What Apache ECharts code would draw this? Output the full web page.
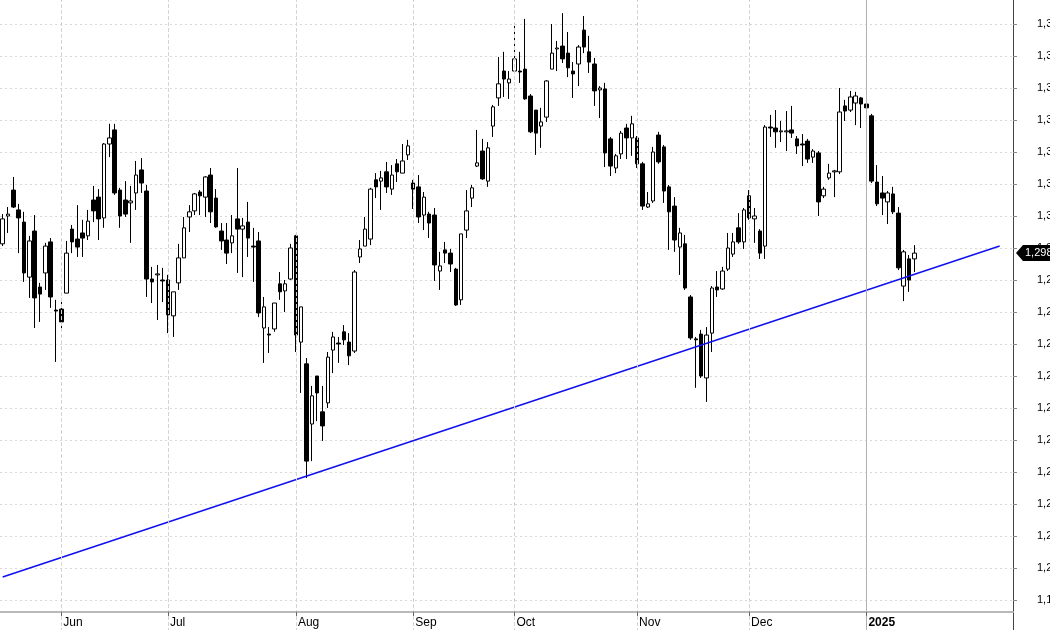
<!DOCTYPE html>
<html><head><meta charset="utf-8">
<script src="https://cdn.jsdelivr.net/npm/echarts@6/dist/echarts.min.js"></script>
<style>html,body{margin:0;padding:0;background:#fff}#c{width:1050px;height:630px}</style>
</head><body><div id="c"></div>
<script>
// OHLC per daily bar (open, high, low, close)
const opens=[1.3013,1.3100,1.3181,1.3119,1.3081,1.2909,1.3053,1.2878,1.2922,1.3019,1.2806,1.2809,1.2859,1.3059,1.3028,1.3047,1.3038,1.3150,1.3159,1.3094,1.3325,1.3369,1.3181,1.3150,1.3141,1.3172,1.3244,1.3178,1.2903,1.2916,1.2900,1.2900,1.2788,1.2891,1.2969,1.3097,1.3116,1.3175,1.3159,1.3228,1.3156,1.3053,1.3025,1.3016,1.3091,1.3059,1.3081,1.3006,1.3022,1.2750,1.2731,1.2747,1.2888,1.2866,1.2903,1.3038,1.2706,1.2638,1.2450,1.2600,1.2488,1.2516,1.2681,1.2703,1.2738,1.2706,1.2678,1.2972,1.3006,1.3028,1.3213,1.3209,1.3238,1.3184,1.3263,1.3234,1.3291,1.3203,1.3191,1.3103,1.3106,1.3103,1.2928,1.2994,1.2984,1.2934,1.2838,1.3056,1.3156,1.3256,1.3303,1.3209,1.3381,1.3469,1.3553,1.3516,1.3553,1.3553,1.3559,1.3475,1.3431,1.3381,1.3409,1.3559,1.3622,1.3631,1.3609,1.3553,1.3575,1.3681,1.3613,1.3575,1.3494,1.3497,1.3341,1.3250,1.3294,1.3375,1.3344,1.3344,1.3263,1.3128,1.3147,1.3353,1.3316,1.3191,1.3131,1.3003,1.3013,1.2847,1.2716,1.2731,1.2594,1.2734,1.2878,1.2872,1.2934,1.2981,1.3063,1.3019,1.3163,1.3091,1.3053,1.3006,1.3378,1.3375,1.3363,1.3363,1.3369,1.3341,1.3325,1.3334,1.3284,1.3297,1.3163,1.3219,1.3238,1.3238,1.3444,1.3431,1.3453,1.3469,1.3450,1.3413,1.3206,1.3172,1.3144,1.3169,1.3109,1.2881,1.2966,1.2966];
const highs=[1.3106,1.3128,1.3222,1.3138,1.3113,1.3038,1.3103,1.2891,1.3016,1.3031,1.2838,1.2841,1.3022,1.3072,1.3134,1.3088,1.3119,1.3194,1.3184,1.3328,1.3388,1.3388,1.3188,1.3209,1.3194,1.3272,1.3281,1.3197,1.2941,1.2947,1.2938,1.2916,1.2863,1.3013,1.3097,1.3134,1.3172,1.3181,1.3225,1.3250,1.3184,1.3078,1.3078,1.3103,1.3250,1.3094,1.3144,1.3063,1.3050,1.2847,1.2753,1.2828,1.2925,1.2900,1.3013,1.3041,1.2816,1.2656,1.2569,1.2600,1.2569,1.2675,1.2738,1.2722,1.2759,1.2734,1.2931,1.3025,1.3097,1.3188,1.3234,1.3241,1.3269,1.3259,1.3278,1.3325,1.3338,1.3213,1.3228,1.3175,1.3113,1.3125,1.2988,1.3019,1.2997,1.2938,1.3044,1.3181,1.3197,1.3369,1.3341,1.3331,1.3447,1.3597,1.3613,1.3553,1.3700,1.3613,1.3716,1.3481,1.3431,1.3438,1.3525,1.3700,1.3647,1.3734,1.3675,1.3581,1.3634,1.3725,1.3663,1.3594,1.3506,1.3516,1.3347,1.3294,1.3366,1.3388,1.3413,1.3350,1.3269,1.3175,1.3316,1.3363,1.3322,1.3197,1.3159,1.3063,1.3041,1.2853,1.2722,1.2744,1.2753,1.2881,1.2928,1.2941,1.3047,1.3047,1.3109,1.3125,1.3181,1.3125,1.3059,1.3384,1.3416,1.3431,1.3397,1.3428,1.3444,1.3350,1.3356,1.3341,1.3309,1.3303,1.3191,1.3263,1.3244,1.3500,1.3463,1.3491,1.3488,1.3472,1.3472,1.3419,1.3259,1.3225,1.3178,1.3191,1.3128,1.2994,1.2978,1.3009];
const lows=[1.3006,1.3047,1.3125,1.2984,1.2894,1.2844,1.2750,1.2769,1.2869,1.2813,1.2644,1.2750,1.2859,1.2984,1.2972,1.2972,1.3025,1.3081,1.3025,1.3063,1.3284,1.3166,1.3063,1.3097,1.3016,1.3119,1.3172,1.2847,1.2828,1.2775,1.2831,1.2734,1.2722,1.2869,1.2969,1.3050,1.3103,1.3103,1.3097,1.3078,1.3063,1.2994,1.2950,1.2984,1.2922,1.2909,1.2972,1.2894,1.2784,1.2641,1.2672,1.2738,1.2838,1.2800,1.2900,1.2675,1.2547,1.2281,1.2334,1.2459,1.2397,1.2500,1.2609,1.2641,1.2697,1.2634,1.2672,1.2953,1.3006,1.3009,1.3156,1.3119,1.3172,1.3166,1.3206,1.3234,1.3275,1.3122,1.3078,1.3056,1.3031,1.2897,1.2869,1.2953,1.2925,1.2819,1.2822,1.3031,1.3128,1.3253,1.3213,1.3191,1.3347,1.3444,1.3472,1.3466,1.3550,1.3516,1.3463,1.3359,1.3291,1.3313,1.3394,1.3559,1.3553,1.3578,1.3534,1.3469,1.3506,1.3609,1.3547,1.3444,1.3406,1.3253,1.3225,1.3234,1.3278,1.3278,1.3288,1.3250,1.3119,1.3125,1.3141,1.3263,1.3141,1.2994,1.2988,1.2916,1.2869,1.2713,1.2563,1.2594,1.2519,1.2675,1.2847,1.2869,1.2928,1.2972,1.3013,1.2997,1.3088,1.3016,1.2966,1.2966,1.3347,1.3313,1.3331,1.3303,1.3344,1.3294,1.3256,1.3266,1.3266,1.3100,1.3156,1.3213,1.3159,1.3231,1.3397,1.3425,1.3384,1.3375,1.3350,1.3203,1.3131,1.3103,1.3075,1.3106,1.2931,1.2834,1.2863,1.2925];
const closes=[1.3091,1.3106,1.3128,1.3094,1.2922,1.3022,1.2844,1.2856,1.3006,1.2847,1.2803,1.2769,1.2984,1.3019,1.3003,1.3031,1.3084,1.3116,1.3091,1.3325,1.3344,1.3172,1.3100,1.3106,1.3147,1.3228,1.3203,1.2903,1.2894,1.2919,1.2897,1.2791,1.2863,1.2969,1.3063,1.3113,1.3169,1.3163,1.3222,1.3113,1.3066,1.3022,1.2984,1.3038,1.3059,1.3069,1.3031,1.3003,1.2797,1.2816,1.2728,1.2828,1.2863,1.2888,1.3000,1.2728,1.2816,1.2334,1.2538,1.2547,1.2444,1.2659,1.2722,1.2700,1.2713,1.2663,1.2925,1.2997,1.3059,1.3184,1.3191,1.3219,1.3191,1.3228,1.3238,1.3272,1.3319,1.3184,1.3097,1.3159,1.3078,1.2947,1.2944,1.2984,1.2950,1.2822,1.3044,1.3116,1.3188,1.3266,1.3216,1.3313,1.3441,1.3513,1.3528,1.3528,1.3591,1.3550,1.3466,1.3363,1.3359,1.3394,1.3522,1.3609,1.3625,1.3591,1.3563,1.3544,1.3628,1.3628,1.3581,1.3491,1.3500,1.3297,1.3256,1.3288,1.3359,1.3344,1.3388,1.3263,1.3131,1.3138,1.3300,1.3269,1.3178,1.3113,1.3025,1.3047,1.2875,1.2719,1.2713,1.2600,1.2728,1.2875,1.2869,1.2928,1.3000,1.3019,1.3019,1.3119,1.3094,1.3100,1.2984,1.3378,1.3375,1.3363,1.3366,1.3366,1.3359,1.3319,1.3322,1.3278,1.3303,1.3144,1.3184,1.3234,1.3241,1.3425,1.3428,1.3472,1.3475,1.3450,1.3438,1.3209,1.3138,1.3156,1.3172,1.3113,1.2938,1.2988,1.2900,1.2984];
const totalSlots=190;
const monthLabels=[[11,'Jun'],[31,'Jul'],[55,'Aug'],[77,'Sep'],[96,'Oct'],[119,'Nov'],[140,'Dec'],[162,'2025']];
const trendStart=[0,1.1972], trendEnd=[187,1.3006];
const yMin=1.18,yMax=1.38,yStep=0.01;
const FONT='Liberation Sans';

const cats=[];for(let i=0;i<totalSlots;i++)cats.push('bar'+(i+1));
const ohlc=opens.map((o,i)=>[o,closes[i],lows[i],highs[i]]);
const trend=new Array(totalSlots).fill(null);trend[trendStart[0]]=trendStart[1];trend[trendEnd[0]]=trendEnd[1];
const monthIdx=monthLabels.map(m=>m[0]);
const ml=monthLabels.map(m=>({xAxis:m[0],lineStyle:m[1]==='2025'?{type:'solid',color:'#b0b0b0',width:1}:{type:'dashed',color:'#d4d4d4',width:1}}));

const chart=echarts.init(document.getElementById('c'),null,{renderer:'canvas'});
chart.setOption({
  animation:false,backgroundColor:'#fff',
  grid:{left:0,right:37,top:-8,height:640,containLabel:false,outerBoundsMode:'none'},
  xAxis:{type:'category',data:cats,boundaryGap:true,offset:-20,z:5,
    axisLine:{show:true,lineStyle:{color:'#b8b8b8',width:2}},
    axisTick:{show:true,alignWithLabel:true,interval:(i)=>monthIdx.includes(i),length:4,lineStyle:{color:'#666'}},
    axisLabel:{interval:(i)=>monthIdx.includes(i),align:'left',margin:5,padding:[0,0,0,2],fontSize:12,fontFamily:FONT,color:'#000',
      formatter:(v,i)=>{const m=monthLabels.find(x=>x[0]===i);return m?(m[1]==='2025'?'{b|2025}':m[1]):'';},
      rich:{b:{fontWeight:'bold',fontSize:12,fontFamily:FONT,color:'#000'}}},
    splitLine:{show:false}},
  yAxis:{type:'value',position:'right',min:yMin,max:yMax,interval:yStep,scale:true,
    axisLine:{show:true,lineStyle:{color:'#444',width:1}},
    axisTick:{show:true,length:4,lineStyle:{color:'#888'}},
    axisLabel:{margin:24,fontSize:11,fontFamily:FONT,color:'#000',showMinLabel:false,showMaxLabel:false,formatter:v=>v.toFixed(3).replace('.',',')},
    splitLine:{show:true,lineStyle:{type:[2,3],color:'#d8d8d8'}}},
  graphic:[{type:'rect',z:1,shape:{x:0,y:613,width:1013,height:20},style:{fill:'#fff'}}],
  series:[
    {type:'line',data:[],z:0,markLine:{silent:true,symbol:'none',label:{show:false},data:ml}},
    {type:'candlestick',data:ohlc,barWidth:4,z:3,
      itemStyle:{color:'#fff',color0:'#000',borderColor:'#000',borderColor0:'#000',borderWidth:1}},
    {type:'line',data:trend,connectNulls:true,symbol:'none',z:4,lineStyle:{color:'#1010ee',width:1.5}}
  ]
});
const last=closes[closes.length-1];
const py=chart.convertToPixel({yAxisIndex:0},last);
const px=chart.convertToPixel({xAxisIndex:0},cats[totalSlots-1])+1013/totalSlots/2+1;
chart.setOption({graphic:[{type:'rect',z:1,shape:{x:0,y:613,width:1013,height:20},style:{fill:'#fff'}},
  {type:'polygon',z:20,shape:{points:[[px+2,py],[px+9,py-8],[1052,py-8],[1052,py+8],[px+9,py+8]]},style:{fill:'#000'}},
  {type:'text',z:21,x:px+11,y:py-6,style:{text:last.toFixed(3).replace('.',','),fill:'#fff',font:'11px '+FONT}}]});
</script></body></html>
